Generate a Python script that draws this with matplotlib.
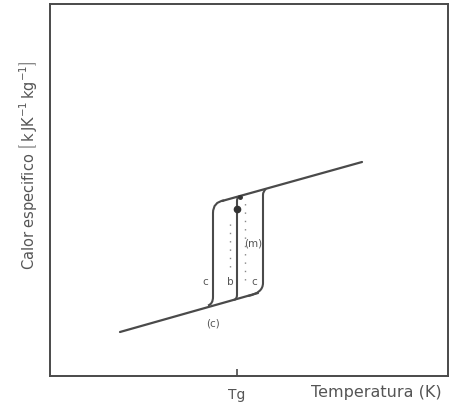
import matplotlib
matplotlib.use("Agg")
import matplotlib.pyplot as plt
from matplotlib.path import Path
from matplotlib.patches import PathPatch

# sketch units: x = temperature (arbitrary), y = specific heat (arbitrary)
glass_x = [120, 258]
glass_y = [75, 114]
liquid_x = [222, 362]
liquid_y = [206, 245]

# transition curves: points + codes (rounded corners via quadratic beziers)
curve_c_left = [(208, 101.5), (213, 103), (213, 110), (213, 194),
                (213, 205), (224, 206.6)]
curve_b = [(234, 107), (237, 108), (237, 112), (237, 206),
           (237, 210), (240, 211)]
curve_c_right = [(248, 111), (263, 114), (263, 124), (263, 212),
                 (263, 216), (266, 218)]
curve_codes = [Path.MOVETO, Path.CURVE3, Path.CURVE3, Path.LINETO,
               Path.CURVE3, Path.CURVE3]

dot_left_x = [230, 230]
dot_left_y = [140, 190]
dot_right_x = [245, 245]
dot_right_y = [127, 207]

marker_x = [237, 240]
marker_y = [198, 210]

Tg = 237

labels = [("c", 205, 125), ("b", 230, 125), ("c", 254, 125),
          ("(m)", 253, 164), ("(c)", 213, 84)]

ink = "#4a4a4a"

fig = plt.figure(figsize=(4.55, 4.07), dpi=100)
ax = fig.add_axes([50 / 455, 31 / 407, 398 / 455, 372 / 407])
ax.set_xlim(50, 448)
ax.set_ylim(31, 403)

ax.plot(glass_x, glass_y, color=ink, lw=1.6, solid_capstyle="round")
ax.plot(liquid_x, liquid_y, color=ink, lw=1.6, solid_capstyle="round")
for pts in (curve_c_left, curve_b, curve_c_right):
    ax.add_patch(PathPatch(Path(pts, curve_codes), fill=False,
                           edgecolor=ink, lw=1.5))

ax.plot(dot_left_x, dot_left_y, color="#888888", lw=1.0, dashes=(1, 5))
ax.plot(dot_right_x, dot_right_y, color="#888888", lw=1.0, dashes=(1, 5))
ax.plot(marker_x[0], marker_y[0], "o", ms=4.5, color="#333333")
ax.plot(marker_x[1], marker_y[1], "o", ms=2.5, color="#333333")

for txt, x, y in labels:
    ax.text(x, y, txt, fontsize=7.5, color="#555555", ha="center", va="center")

for s in ax.spines.values():
    s.set_color(ink)
    s.set_linewidth(1.4)
ax.set_yticks([])
ax.set_xticks([Tg])
ax.set_xticklabels(["Tg"], fontsize=10, color="#555555")
ax.tick_params(axis="x", direction="in", length=5, width=1.2, color=ink, pad=9)

ax.text(376, 14, "Temperatura (K)", fontsize=11.5, color="#555555",
        ha="center", va="center", clip_on=False)
ax.text(28, 242, r"Calor especifico $\left[\,\mathrm{k\,JK^{-1}\,kg^{-1}}\right]$",
        fontsize=10.5, color="#555555", rotation=90, ha="center", va="center",
        clip_on=False)

fig.savefig("out.png", dpi=100)
